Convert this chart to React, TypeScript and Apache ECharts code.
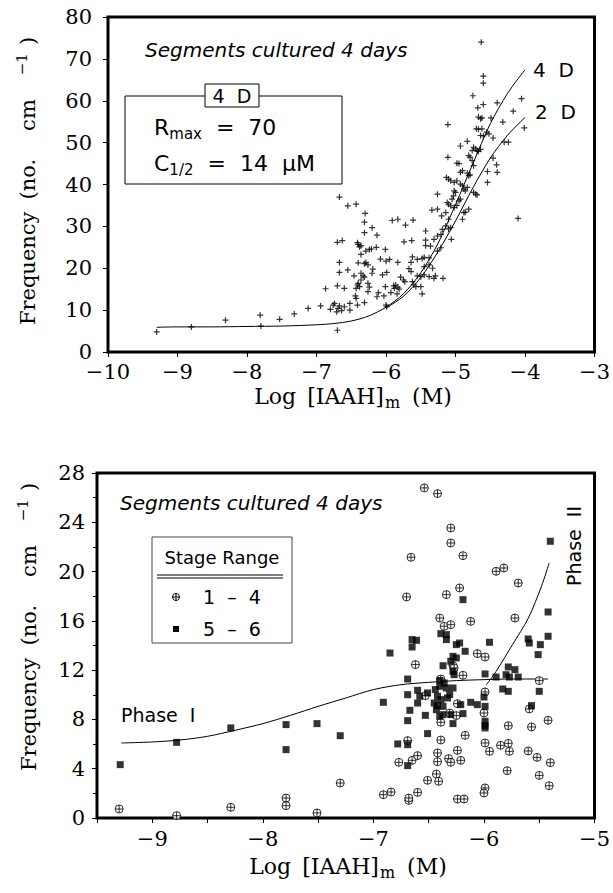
import React, { useEffect, useRef } from "react";
import * as echarts from "echarts";

// ---------- Top panel data (Log [IAAH]m, frequency) ----------
const topPoints: [number, number][] = [
  [-9.30, 4.8], [-8.80, 6.0], [-8.31, 7.6], [-7.81, 8.8], [-7.80, 6.2], [-7.53, 7.8], [-7.32, 9.1],
  [-7.12, 10.4], [-6.94, 11.0], [-6.87, 15.1], [-6.70, 5.2],
  [-6.80, 10.2], [-6.76, 11.2], [-6.74, 11.6], [-6.71, 9.6], [-6.69, 10.4], [-6.67, 11.0], [-6.64, 9.9],
  [-6.60, 10.8], [-6.52, 10.0], [-6.52, 11.6], [-6.41, 11.2], [-6.31, 11.8], [-6.44, 13.4], [-6.43, 12.8],
  [-6.70, 15.8], [-6.60, 15.2], [-6.41, 16.0], [-6.38, 15.6], [-6.43, 15.2], [-6.40, 16.4], [-6.36, 17.2],
  [-6.26, 16.4], [-6.24, 15.5], [-6.26, 14.4], [-6.11, 14.2], [-6.13, 13.2], [-6.01, 15.6], [-6.03, 13.4],
  [-5.89, 15.8], [-5.88, 15.2], [-5.86, 16.0], [-5.83, 15.5], [-5.81, 15.0], [-5.93, 14.2], [-5.84, 13.9],
  [-6.00, 11.2], [-5.99, 10.8],
  [-6.67, 19.0], [-6.55, 19.6], [-6.46, 18.2], [-6.36, 18.8], [-6.33, 18.2], [-6.31, 17.9], [-6.19, 19.8],
  [-6.20, 18.8], [-6.05, 18.4], [-5.99, 19.0], [-5.79, 17.9], [-5.75, 17.2], [-5.73, 16.8], [-5.67, 19.9],
  [-5.64, 19.2], [-5.62, 16.8], [-5.60, 16.0], [-5.57, 15.6], [-5.50, 15.6], [-5.48, 13.9], [-5.55, 18.2],
  [-5.50, 18.0], [-5.45, 18.4], [-5.38, 18.0], [-5.31, 17.6], [-5.29, 18.2], [-5.18, 17.6],
  [-6.67, 21.4], [-6.40, 21.3], [-6.31, 21.1], [-6.29, 21.4], [-6.26, 20.8], [-6.08, 22.2], [-6.00, 21.7],
  [-5.95, 22.1], [-5.83, 21.4], [-5.64, 21.4], [-5.55, 22.1], [-5.48, 22.3], [-5.45, 22.6], [-5.62, 22.7],
  [-5.45, 20.4], [-5.38, 20.8], [-5.33, 20.0], [-6.36, 23.3], [-6.29, 24.1], [-6.24, 24.5], [-6.21, 24.6],
  [-6.14, 25.0], [-6.01, 24.5], [-5.38, 22.5],
  [-6.70, 26.2], [-6.63, 26.6], [-6.40, 25.7], [-6.38, 25.1], [-6.41, 26.1], [-6.36, 25.4], [-6.13, 27.9],
  [-6.31, 28.5], [-6.20, 29.7], [-5.74, 26.3], [-5.63, 26.6], [-5.43, 26.7], [-5.43, 25.4], [-5.36, 25.3],
  [-5.43, 28.9], [-5.31, 26.9], [-5.26, 27.7], [-5.21, 28.1], [-5.19, 29.3], [-5.14, 30.1], [-5.10, 29.4],
  [-5.07, 29.7], [-5.06, 26.9], [-5.26, 24.1], [-5.21, 24.9],
  [-6.67, 37.0], [-6.55, 34.9], [-6.43, 35.3], [-6.30, 33.1], [-6.31, 31.0], [-5.91, 31.4], [-5.83, 31.7],
  [-5.72, 30.3], [-5.61, 31.5], [-5.34, 33.9], [-5.26, 37.7], [-5.26, 34.1], [-5.20, 32.5], [-5.14, 33.3],
  [-5.10, 31.7], [-5.12, 35.7], [-5.10, 35.3], [-5.07, 34.9], [-5.02, 34.5], [-4.98, 35.0], [-4.95, 36.1],
  [-5.05, 36.5], [-5.02, 38.5], [-5.00, 38.1], [-5.03, 37.3], [-4.88, 33.3], [-4.86, 33.4], [-4.81, 34.1],
  [-4.90, 31.7], [-4.93, 36.5], [-4.74, 38.1], [-4.71, 37.7], [-4.69, 37.5], [-4.10, 31.9],
  [-5.13, 41.7], [-5.10, 41.3], [-5.07, 40.9], [-5.02, 40.5], [-4.98, 40.9], [-4.93, 40.1], [-4.90, 39.7],
  [-4.88, 38.9], [-4.86, 38.5], [-4.83, 39.3], [-4.93, 42.9], [-4.90, 43.3], [-4.83, 42.7], [-4.81, 42.1],
  [-4.79, 42.3], [-5.11, 46.5], [-4.98, 45.1], [-4.95, 45.0], [-4.81, 46.9], [-4.79, 46.5], [-4.76, 45.7],
  [-4.54, 43.1], [-4.54, 40.5], [-4.46, 46.3], [-4.41, 44.7], [-4.40, 42.9], [-4.74, 44.5],
  [-4.83, 50.3], [-4.93, 49.2], [-4.74, 48.9], [-4.71, 48.5], [-4.69, 48.1], [-4.67, 47.9], [-4.76, 48.1],
  [-4.64, 48.4], [-4.30, 50.1], [-4.24, 50.1], [-4.46, 51.1], [-4.60, 51.6], [-4.64, 51.7], [-4.55, 52.5],
  [-4.52, 52.1], [-4.70, 53.3], [-4.67, 53.2], [-4.62, 53.3], [-5.11, 54.3], [-4.32, 54.9], [-4.01, 53.5],
  [-4.67, 56.1], [-4.64, 55.7], [-4.62, 55.9], [-4.49, 55.9],
  [-4.17, 57.5], [-4.68, 58.3], [-4.60, 59.1], [-4.40, 59.5], [-4.75, 61.2], [-4.05, 60.5], [-4.60, 64.2],
  [-4.60, 65.9], [-4.63, 74.0],
];

const curve4DX = [-9.3, -9.0, -8.5, -8.0, -7.5, -7.0, -6.75, -6.5, -6.25, -6.0, -5.75, -5.5, -5.25, -5.0, -4.75, -4.5, -4.25, -4.0];
const curve4DY = [5.9, 6.0, 6.0, 6.1, 6.2, 6.5, 6.8, 7.4, 8.6, 10.7, 13.9, 18.9, 26.0, 35.2, 45.0, 54.5, 61.8, 67.4];
const curve2DX = [-6.0, -5.75, -5.5, -5.25, -5.0, -4.75, -4.5, -4.25, -4.0];
const curve2DY = [10.5, 13.3, 17.8, 24.0, 31.3, 39.2, 46.3, 51.8, 56.0];

const topXTicks = [-10, -9, -8, -7, -6, -5, -4, -3];
const topYTicks = [0, 10, 20, 30, 40, 50, 60, 70, 80];

// ---------- Bottom panel data ----------
const stage1to4: [number, number][] = [
  [-9.30, 0.73], [-8.78, 0.19], [-8.29, 0.87], [-7.79, 1.62], [-7.79, 1.00], [-7.51, 0.41], [-7.30, 2.84],
  [-6.91, 1.89], [-6.84, 2.11], [-6.68, 1.43], [-6.68, 1.62], [-6.60, 2.08], [-6.51, 3.06], [-6.43, 3.57],
  [-6.41, 2.98], [-6.24, 1.54], [-6.18, 1.54], [-5.99, 2.44], [-6.00, 2.03], [-5.41, 2.62], [-5.50, 3.46],
  [-5.79, 3.84], [-5.40, 4.49], [-5.52, 4.92], [-5.60, 5.44], [-5.77, 5.41], [-5.78, 6.06], [-5.85, 5.90],
  [-5.95, 5.41], [-5.99, 6.09], [-6.77, 4.52], [-6.65, 4.68], [-6.60, 5.06], [-6.42, 5.28], [-6.42, 4.57],
  [-6.32, 4.82], [-6.30, 4.52], [-6.24, 5.49], [-6.21, 4.68], [-6.69, 6.28], [-6.39, 6.33], [-6.17, 6.71],
  [-6.39, 7.77], [-6.31, 8.52], [-6.25, 8.31], [-6.24, 9.28], [-6.00, 8.52], [-5.59, 8.85], [-5.57, 7.39],
  [-5.42, 7.93], [-5.78, 7.49], [-5.50, 11.15], [-5.99, 10.23], [-6.53, 9.93], [-6.62, 12.45], [-6.28, 12.36],
  [-6.27, 12.18], [-6.19, 11.58], [-6.39, 11.28], [-6.06, 13.34], [-5.99, 13.07], [-6.40, 16.23], [-6.36, 15.56],
  [-6.30, 15.69], [-6.12, 15.96], [-5.72, 16.23], [-5.69, 19.07], [-5.89, 20.02], [-5.82, 20.29], [-6.22, 18.67],
  [-6.34, 18.13], [-6.70, 17.94], [-6.66, 21.16], [-6.19, 21.29], [-6.30, 22.32], [-6.30, 23.54], [-6.54, 26.79],
  [-6.42, 26.33],
];

const stage5to6: [number, number][] = [
  [-9.29, 4.33], [-8.78, 6.14], [-8.29, 7.31], [-7.79, 7.58], [-7.79, 5.55], [-7.51, 7.66], [-7.30, 6.68],
  [-6.91, 9.39], [-6.85, 13.39], [-6.78, 6.01], [-6.69, 4.25], [-6.69, 5.95], [-6.69, 11.28], [-6.69, 10.01],
  [-6.69, 7.90], [-6.67, 8.74], [-6.65, 14.48], [-6.61, 14.42], [-6.65, 13.88], [-6.60, 10.36], [-6.58, 9.88],
  [-6.60, 9.33], [-6.53, 8.33], [-6.51, 6.85], [-6.51, 10.15], [-6.44, 10.42], [-6.42, 9.88], [-6.39, 9.61],
  [-6.33, 9.74], [-6.31, 10.01], [-6.45, 9.33], [-6.42, 9.12], [-6.37, 9.06], [-6.43, 8.79], [-6.21, 9.20],
  [-6.12, 9.39], [-6.06, 9.20], [-6.00, 9.82], [-5.99, 9.06], [-6.40, 8.25], [-6.37, 8.39], [-6.30, 8.39],
  [-6.19, 8.47], [-6.28, 7.66], [-5.99, 7.85], [-5.99, 7.52], [-5.99, 7.31], [-6.40, 11.17], [-6.36, 10.96],
  [-6.40, 10.69], [-6.34, 10.55], [-6.28, 10.55], [-6.28, 11.90], [-6.27, 11.63], [-5.99, 11.69], [-5.89, 11.44],
  [-5.78, 12.26], [-5.72, 12.04], [-5.69, 11.44], [-5.80, 11.63], [-5.77, 11.44], [-5.83, 10.47], [-5.78, 10.28],
  [-6.39, 14.96], [-6.34, 14.88], [-6.34, 14.48], [-6.25, 14.07], [-6.22, 14.20], [-6.17, 13.53], [-6.28, 13.12],
  [-6.25, 12.99], [-6.30, 12.72], [-6.37, 12.36], [-5.95, 14.26], [-5.60, 14.53], [-5.59, 14.20], [-5.49, 14.07],
  [-5.51, 13.26], [-5.42, 14.75], [-5.42, 16.72], [-5.40, 22.46], [-6.19, 17.72], [-5.50, 10.28], [-5.57, 9.12],
];

const phase1X = [-9.28, -9.0, -8.75, -8.5, -8.25, -8.0, -7.75, -7.5, -7.25, -7.0, -6.75, -6.5, -6.25, -6.0, -5.75, -5.5, -5.42];
const phase1Y = [6.09, 6.17, 6.33, 6.63, 7.12, 7.66, 8.33, 9.06, 9.74, 10.42, 10.82, 11.01, 11.15, 11.23, 11.28, 11.28, 11.28];
const phase2X = [-5.98, -5.89, -5.74, -5.60, -5.48, -5.41];
const phase2Y = [10.8, 11.9, 14.1, 16.2, 18.8, 20.7];

const bottomXLabels = [-9, -8, -7, -6, -5];
const bottomYTicks = [0, 4, 8, 12, 16, 20, 24, 28];

const SERIF = "DejaVu Serif";
const SANS = "DejaVu Sans";

const PLUS = "path://M4,0H6V4H10V6H6V10H4V6H0V4H4Z";
const CIRCLE_PLUS = "path://M0,10A10,10 0 1 1 20,10A10,10 0 1 1 0,10ZM0,10L20,10M10,0L10,20";

const fmtNeg = (v: number) => (v < 0 ? "\u2212" + Math.abs(v) : String(v));
const zip = (xs: number[], ys: number[]) => xs.map((x, i) => [x, ys[i]]);

const yNameRich = {
  a: { fontFamily: SERIF, fontSize: 21, fill: "#000" },
  c: { fontFamily: SERIF, fontSize: 21, fill: "#000", padding: [0, 0, 0, 12] },
  d: { fontFamily: SERIF, fontSize: 21, fill: "#000", padding: [0, 0, 0, 28] },
  b: { fontFamily: SERIF, fontSize: 15, fill: "#000", padding: [0, 0, 13, 24] },
  e: { fontFamily: SERIF, fontSize: 21, fill: "#000", padding: [0, 0, 0, 8] },
};
const yNameText = "{a|Frequency}{c|(no.}{d|cm}{b|\u22121}{e|)}";

const xNameRich = {
  a: { fontFamily: SERIF, fontSize: 22, fill: "#000" },
  c: { fontFamily: SERIF, fontSize: 22, fill: "#000", padding: [0, 0, 0, 11] },
  s: { fontFamily: SERIF, fontSize: 16, fill: "#000", padding: [13, 0, 0, 1] },
  e: { fontFamily: SERIF, fontSize: 22, fill: "#000", padding: [0, 0, 0, 12] },
};
const xNameText = "{a|Log}{c|[IAAH]}{s|m}{e|(M)}";

function buildOption(): any {
  const axisLabelStyle = { color: "#000", fontFamily: SERIF, fontSize: 21 };
  const tick = { show: true, length: 5, lineStyle: { color: "#000", width: 1 } };
  return {
    animation: false,
    backgroundColor: "#fff",
    grid: [
      { left: 108, top: 17, width: 490, height: 335, show: true, borderColor: "#000", borderWidth: 3, backgroundColor: "transparent" },
      { left: 97, top: 473, width: 503, height: 345, show: true, borderColor: "#000", borderWidth: 3, backgroundColor: "transparent" },
    ],
    xAxis: [
      {
        gridIndex: 0, type: "value", min: topXTicks[0], max: topXTicks[topXTicks.length - 1], interval: 1,
        axisLine: { show: false }, splitLine: { show: false }, axisTick: tick,
        axisLabel: { ...axisLabelStyle, margin: 9, formatter: fmtNeg, showMinLabel: true, showMaxLabel: true },
      },
      {
        gridIndex: 1, type: "value", min: -9.5, max: bottomXLabels[bottomXLabels.length - 1], interval: 0.5,
        axisLine: { show: false }, splitLine: { show: false }, axisTick: tick,
        axisLabel: {
          ...axisLabelStyle, margin: 10, showMinLabel: true, showMaxLabel: true,
          formatter: (v: number) => (bottomXLabels.indexOf(v) >= 0 ? fmtNeg(v) : ""),
        },
      },
    ],
    yAxis: [
      {
        gridIndex: 0, type: "value", min: topYTicks[0], max: topYTicks[topYTicks.length - 1], interval: 10,
        axisLine: { show: false }, splitLine: { show: false }, axisTick: tick,
        axisLabel: { ...axisLabelStyle, margin: 16 },
      },
      {
        gridIndex: 1, type: "value", min: bottomYTicks[0], max: bottomYTicks[bottomYTicks.length - 1], interval: 4,
        axisLine: { show: false }, splitLine: { show: false }, axisTick: tick,
        minorTick: { show: true, splitNumber: 2, length: 4, lineStyle: { color: "#000", width: 1 } },
        axisLabel: { ...axisLabelStyle, margin: 12 },
      },
    ],
    series: [
      {
        type: "line", xAxisIndex: 0, yAxisIndex: 0, data: zip(curve4DX, curve4DY), smooth: 0.3,
        symbol: "none", lineStyle: { color: "#000", width: 1 }, z: 1,
      },
      {
        type: "line", xAxisIndex: 0, yAxisIndex: 0, data: zip(curve2DX, curve2DY), smooth: 0.3,
        symbol: "none", lineStyle: { color: "#000", width: 1 }, z: 1,
      },
      {
        type: "scatter", xAxisIndex: 0, yAxisIndex: 0, data: topPoints, symbol: PLUS, symbolSize: 6,
        itemStyle: { color: "#000" }, z: 3,
      },
      {
        type: "line", xAxisIndex: 1, yAxisIndex: 1, data: zip(phase1X, phase1Y), smooth: 0.3,
        symbol: "none", lineStyle: { color: "#000", width: 1 }, z: 1,
      },
      {
        type: "line", xAxisIndex: 1, yAxisIndex: 1, data: zip(phase2X, phase2Y), smooth: 0.3,
        symbol: "none", lineStyle: { color: "#000", width: 1 }, z: 1,
      },
      {
        type: "scatter", xAxisIndex: 1, yAxisIndex: 1, data: stage1to4, symbol: CIRCLE_PLUS, symbolSize: 8,
        itemStyle: { color: "#fff", borderColor: "#000", borderWidth: 1 }, z: 3,
      },
      {
        type: "scatter", xAxisIndex: 1, yAxisIndex: 1, data: stage5to6, symbol: "rect", symbolSize: 7,
        itemStyle: { color: "#000" }, z: 4,
      },
    ],
    graphic: [
      // Axis names
      { type: "text", x: 28, y: 181, rotation: Math.PI / 2, style: { text: yNameText, align: "center", verticalAlign: "middle", rich: yNameRich } },
      { type: "text", x: 353, y: 396, style: { text: xNameText, align: "center", verticalAlign: "middle", rich: xNameRich } },
      { type: "text", x: 29, y: 627, rotation: Math.PI / 2, style: { text: yNameText, align: "center", verticalAlign: "middle", rich: yNameRich } },
      { type: "text", x: 348, y: 866, style: { text: xNameText, align: "center", verticalAlign: "middle", rich: xNameRich } },
      // Top annotations
      {
        type: "text", x: 145, y: 50,
        style: { text: "Segments cultured 4 days", fontFamily: SANS, fontStyle: "italic", fontSize: 20, fill: "#000", verticalAlign: "middle" },
      },
      { type: "rect", shape: { x: 125, y: 96, width: 217, height: 88 }, style: { fill: "none", stroke: "#000", lineWidth: 1 } },
      { type: "rect", shape: { x: 205, y: 84, width: 54, height: 23 }, style: { fill: "#fff", stroke: "#000", lineWidth: 1 } },
      { type: "text", x: 232, y: 96, style: { text: "4  D", fontFamily: SANS, fontSize: 19, fill: "#000", align: "center", verticalAlign: "middle" } },
      {
        type: "text", x: 154, y: 127,
        style: {
          text: "{a|R}{s|max}{a|  =  70}", verticalAlign: "middle",
          rich: { a: { fontFamily: SANS, fontSize: 22, fill: "#000" }, s: { fontFamily: SANS, fontSize: 15, fill: "#000", padding: [13, 0, 0, 0] } },
        },
      },
      {
        type: "text", x: 154, y: 163,
        style: {
          text: "{a|C}{s|1/2}{a|  =  14  \u03bcM}", verticalAlign: "middle",
          rich: { a: { fontFamily: SANS, fontSize: 22, fill: "#000" }, s: { fontFamily: SANS, fontSize: 15, fill: "#000", padding: [13, 0, 0, 0] } },
        },
      },
      { type: "text", x: 533, y: 70, style: { text: "4  D", fontFamily: SANS, fontSize: 20, fill: "#000", verticalAlign: "middle" } },
      { type: "text", x: 535, y: 112, style: { text: "2  D", fontFamily: SANS, fontSize: 20, fill: "#000", verticalAlign: "middle" } },
      // Bottom annotations
      {
        type: "text", x: 120, y: 503,
        style: { text: "Segments cultured 4 days", fontFamily: SANS, fontStyle: "italic", fontSize: 20, fill: "#000", verticalAlign: "middle" },
      },
      { type: "rect", shape: { x: 152, y: 537, width: 140, height: 106 }, style: { fill: "#fff", stroke: "#444", lineWidth: 1 } },
      { type: "text", x: 222, y: 557, style: { text: "Stage Range", fontFamily: SANS, fontSize: 18, fill: "#000", align: "center", verticalAlign: "middle" } },
      { type: "line", shape: { x1: 157, y1: 575, x2: 283, y2: 575 }, style: { stroke: "#000", lineWidth: 1 } },
      { type: "line", shape: { x1: 157, y1: 578, x2: 283, y2: 578 }, style: { stroke: "#000", lineWidth: 1 } },
      { type: "circle", shape: { cx: 176, cy: 597, r: 3.5 }, style: { fill: "#fff", stroke: "#000", lineWidth: 1 } },
      { type: "line", shape: { x1: 172.5, y1: 597, x2: 179.5, y2: 597 }, style: { stroke: "#000", lineWidth: 1 } },
      { type: "line", shape: { x1: 176, y1: 593.5, x2: 176, y2: 600.5 }, style: { stroke: "#000", lineWidth: 1 } },
      { type: "text", x: 232, y: 597, style: { text: "1  \u2013  4", fontFamily: SANS, fontSize: 19, fill: "#000", align: "center", verticalAlign: "middle" } },
      { type: "rect", shape: { x: 173, y: 626, width: 6, height: 6 }, style: { fill: "#000" } },
      { type: "text", x: 232, y: 629, style: { text: "5  \u2013  6", fontFamily: SANS, fontSize: 19, fill: "#000", align: "center", verticalAlign: "middle" } },
      { type: "text", x: 121, y: 715, style: { text: "Phase  I", fontFamily: SANS, fontSize: 19, fill: "#000", verticalAlign: "middle" } },
      {
        type: "text", x: 574, y: 546, rotation: Math.PI / 2,
        style: { text: "Phase  II", fontFamily: SANS, fontSize: 19, fill: "#000", align: "center", verticalAlign: "middle" },
      },
    ],
  };
}

export default function App() {
  const ref = useRef<HTMLDivElement>(null);
  useEffect(() => {
    document.body.style.margin = "0";
    const chart = echarts.init(ref.current as HTMLDivElement, null, { renderer: "svg" });
    chart.setOption(buildOption());
    return () => chart.dispose();
  }, []);
  return <div ref={ref} style={{ width: 613, height: 893 }} />;
}
